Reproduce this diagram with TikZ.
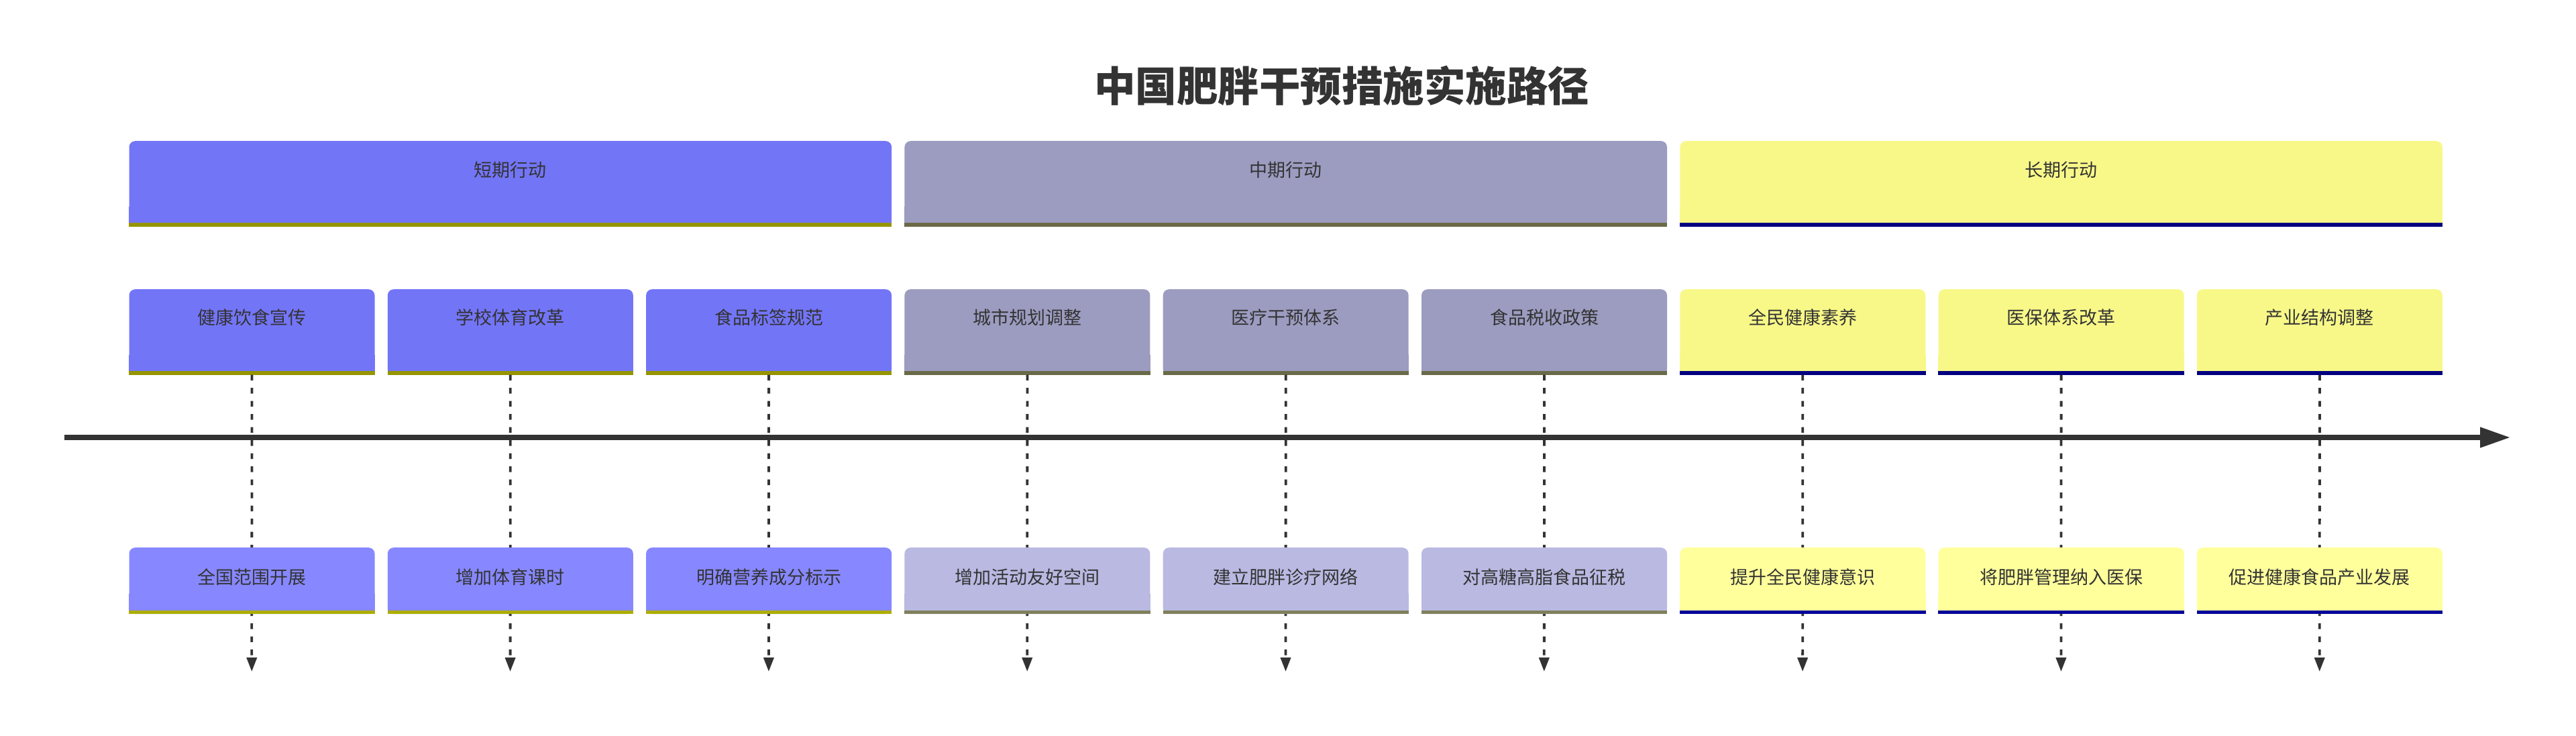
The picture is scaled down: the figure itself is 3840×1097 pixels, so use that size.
\documentclass[tikz,border=0pt]{standalone}
\usepackage{fontspec}
\setmainfont{Noto Sans CJK SC}
\usetikzlibrary{arrows.meta}
\definecolor{tc}{HTML}{333333}
\definecolor{hdA}{HTML}{7375F7}
\definecolor{rwA}{HTML}{8788FF}
\definecolor{bhA}{HTML}{959500}
\definecolor{brA}{HTML}{ADAD00}
\definecolor{hdB}{HTML}{9C9CC1}
\definecolor{rwB}{HTML}{B9B9E2}
\definecolor{bhB}{HTML}{6A6A48}
\definecolor{brB}{HTML}{80805C}
\definecolor{hdC}{HTML}{F8F889}
\definecolor{rwC}{HTML}{FFFF9C}
\definecolor{bhC}{HTML}{000080}
\definecolor{brC}{HTML}{00009A}
\begin{document}
\begin{tikzpicture}[x=1pt,y=-1pt,
  boxshape/.style={rectangle, inner sep=0pt, anchor=north west, rounded corners=9pt, draw=none},
  lbl/.style={inner sep=0pt, text=tc, font=\fontsize{27}{32}\selectfont},
  timeline/.style={draw=tc, line width=7.35pt, -{Triangle[length=45pt,width=29pt]}},
  dashconn/.style={draw=tc, line width=3.8pt, dash pattern=on 8.5pt off 11pt, -{Triangle[length=21pt,width=15pt]}}
]
\useasboundingbox (0,0) rectangle (3840,1097);
\fill[white] (0,0) rectangle (3840,1097);
% title
\node[inner sep=0pt, text=tc, font=\bfseries\fontsize{61.5}{70}\selectfont] (title) at (2000,128) {中国肥胖干预措施实施路径};
% section headers
\foreach \k/\s/\t in {0/A/短期行动, 1/B/中期行动, 2/C/长期行动}{
  \pgfmathsetmacro\L{192.3+1155.9*\k}
  \node[boxshape, fill=hd\s, minimum width=1136.6pt, minimum height=127.5pt] (h\k) at (\L,210) {};
  \fill[hd\s] ([yshift=30pt]h\k.south west) rectangle (h\k.south east);
  \fill[bh\s] (h\k.south west) rectangle ([yshift=5.5pt]h\k.south east);
  \node[lbl] (ht\k) at ([yshift=-43pt]h\k.north) {\t};
}
% first row of boxes
\foreach \i/\s/\t in {0/A/健康饮食宣传, 1/A/学校体育改革, 2/A/食品标签规范, 3/B/城市规划调整, 4/B/医疗干预体系, 5/B/食品税收政策, 6/C/全民健康素养, 7/C/医保体系改革, 8/C/产业结构调整}{
  \pgfmathsetmacro\L{192.3+385.3*\i}
  \node[boxshape, fill=hd\s, minimum width=366pt, minimum height=127.3pt] (t\i) at (\L,431) {};
  \fill[hd\s] ([yshift=30pt]t\i.south west) rectangle (t\i.south east);
  \fill[bh\s] (t\i.south west) rectangle ([yshift=5.5pt]t\i.south east);
  \node[lbl] (tt\i) at ([yshift=-42pt]t\i.north) {\t};
}
% timeline
\coordinate (tlstart) at (96,652);
\coordinate (tlend) at (3742,652);
\draw[timeline] (tlstart) -- (tlend);
% dashed connectors
\foreach \i in {0,...,8}{
  \pgfmathsetmacro\X{192.3+385.3*\i+183}
  \coordinate (end\i) at (\X,1001);
  \draw[dashconn] (t\i.south) -- (end\i);
}
% second row of boxes
\foreach \i/\s/\t in {0/A/全国范围开展, 1/A/增加体育课时, 2/A/明确营养成分标示, 3/B/增加活动友好空间, 4/B/建立肥胖诊疗网络, 5/B/对高糖高脂食品征税, 6/C/提升全民健康意识, 7/C/将肥胖管理纳入医保, 8/C/促进健康食品产业发展}{
  \pgfmathsetmacro\L{192.3+385.3*\i}
  \node[boxshape, fill=rw\s, minimum width=366pt, minimum height=99pt] (e\i) at (\L,816) {};
  \fill[rw\s] ([yshift=30pt]e\i.south west) rectangle (e\i.south east);
  \fill[br\s] (e\i.south west) rectangle ([yshift=5.5pt]e\i.south east);
  \node[lbl] (et\i) at ([yshift=-44pt]e\i.north) {\t};
}
\end{tikzpicture}
\end{document}
